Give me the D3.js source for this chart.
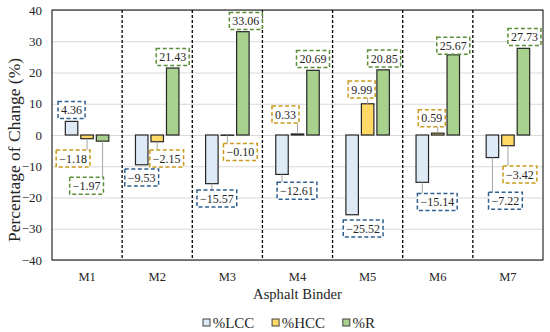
<!DOCTYPE html>
<html>
<head>
<meta charset="utf-8">
<script src="https://cdn.jsdelivr.net/npm/d3@7"></script>
<style>
  body { margin: 0; background: #fff; }
  svg text { font-family: "Liberation Serif", "Times New Roman", serif; fill: #262626; }
</style>
</head>
<body>
<svg id="chart" width="550" height="332"></svg>
<script>
//------------------------------------------------------------------------------
// Data
//------------------------------------------------------------------------------
var binders = ["M1", "M2", "M3", "M4", "M5", "M6", "M7"];
var seriesNames = ["%LCC", "%HCC", "%R"];
var lcc = [4.36, -9.53, -15.57, -12.61, -25.52, -15.14, -7.22];
var hcc = [-1.18, -2.15, -0.10, 0.33, 9.99, 0.59, -3.42];
var rr = [-1.97, 21.43, 33.06, 20.69, 20.85, 25.67, 27.73];
var yTicks = [-40, -30, -20, -10, 0, 10, 20, 30, 40];

// where each data label was dragged to: pixel shift from bar centre, and
// the value level the label centre sits at
var lccLabelDx = [0, 0, 5, 15, 11, 15, 13];
var lccLabelAt = [8.0, -13.6, -20.3, -17.8, -29.9, -21.4, -21.0];
var hccLabelDx = [-14, 9.5, 13, -12, -6, -6, 12];
var hccLabelAt = [-7.5, -7.5, -5.4, 6.6, 14.6, 5.4, -12.6];
var rLabelDx = [-16, 0, 3, 0, 1, 0, 1];
var rLabelAt = [-16.2, 25.0, 36.5, 24.3, 24.5, 28.6, 31.4];

//------------------------------------------------------------------------------
// Layout
//------------------------------------------------------------------------------
var FONT = "'Liberation Serif', 'Times New Roman', serif";

var svg = d3.select("#chart"),
    margin = {left: 52, right: 7, top: 10, bottom: 72},
    W = 550, H = 332,
    plotW = W - margin.left - margin.right,
    plotH = H - margin.top - margin.bottom;

var fills = ["#deebf7", "#ffd966", "#a9d18e"],
    boxStroke = ["#2f5f8f", "#c99a1c", "#5b8f37"];

var series = [
    {name: seriesNames[0], values: lcc, dx: lccLabelDx, at: lccLabelAt},
    {name: seriesNames[1], values: hcc, dx: hccLabelDx, at: hccLabelAt},
    {name: seriesNames[2], values: rr, dx: rLabelDx, at: rLabelAt}
];

var x = d3.scaleBand().domain(binders).range([0, plotW]).padding(0);
var y = d3.scaleLinear().domain([-40, 40]).range([plotH, 0]);
var bw = x.bandwidth(),
    step = bw * 0.221,
    barW = bw * 0.178;

var g = svg.append("g")
    .attr("transform", "translate(" + margin.left + "," + margin.top + ")");

// gridlines
g.append("g")
    .call(d3.axisLeft(y).tickValues(yTicks).tickSize(-plotW).tickFormat(""))
    .call(function(a) {
        a.select(".domain").remove();
        a.selectAll("line").attr("stroke", "#d9d9d9").attr("stroke-width", 1);
    });

// y tick labels
g.append("g")
    .call(d3.axisLeft(y).tickValues(yTicks).tickSize(0).tickPadding(10).tickFormat(d3.format("d")))
    .attr("font-family", FONT)
    .call(function(a) {
        a.select(".domain").remove();
        a.selectAll("text").style("font-size", "13px").attr("fill", "#262626");
    });

// category labels
g.append("g")
    .attr("transform", "translate(0," + plotH + ")")
    .call(d3.axisBottom(x).tickSize(0).tickPadding(12))
    .attr("font-family", FONT)
    .call(function(a) {
        a.select(".domain").remove();
        a.selectAll("text").style("font-size", "12.5px").attr("fill", "#262626");
    });

// dashed separators between binders
g.append("g").selectAll("line")
    .data(binders.slice(1))
    .join("line")
    .attr("x1", function(d) { return x(d); })
    .attr("x2", function(d) { return x(d); })
    .attr("y1", 0)
    .attr("y2", plotH)
    .attr("stroke", "#000")
    .attr("stroke-width", 1.3)
    .attr("stroke-dasharray", "3,2");

//------------------------------------------------------------------------------
// Bars
//------------------------------------------------------------------------------
function barX(si, i) {
    return x(binders[i]) + bw / 2 + (si - 1) * step;
}

series.forEach(function(s, si) {
    g.append("g").selectAll("rect")
        .data(s.values)
        .join("rect")
        .attr("x", function(d, i) { return barX(si, i) - barW / 2; })
        .attr("y", function(d) { return y(Math.max(0, d)); })
        .attr("width", barW)
        .attr("height", function(d) { return Math.abs(y(d) - y(0)); })
        .attr("fill", fills[si])
        .attr("stroke", "#262626")
        .attr("stroke-width", 1.2);
});

//------------------------------------------------------------------------------
// Data labels with dashed boxes and leader lines
//------------------------------------------------------------------------------
var fmt = d3.format(".2f");
var leaders = g.append("g"),
    labels = g.append("g").attr("font-family", FONT);

series.forEach(function(s, si) {
    s.values.forEach(function(v, i) {
        var bx = barX(si, i),
            by = y(v),
            cx = bx + s.dx[i],
            cy = y(s.at[i]);

        var lab = labels.append("g");
        var t = lab.append("text")
            .attr("x", cx)
            .attr("y", cy)
            .attr("dy", "0.35em")
            .attr("text-anchor", "middle")
            .style("font-size", "12px")
            .text(fmt(v));
        var tw = t.node().getComputedTextLength(),
            w = tw + 6, h = 17;
        var x0 = cx - w / 2, y0 = cy - h / 2;
        lab.insert("rect", "text")
            .attr("x", x0)
            .attr("y", y0)
            .attr("width", w)
            .attr("height", h)
            .attr("fill", "#fff")
            .attr("stroke", boxStroke[si])
            .attr("stroke-width", 1.5)
            .attr("stroke-dasharray", "4,2.5");

        // leader to the bar end when the label is away from it
        var px = Math.max(x0, Math.min(bx, x0 + w)),
            py = Math.max(y0, Math.min(by, y0 + h));
        if (Math.hypot(px - bx, py - by) > 5.5) {
            leaders.append("line")
                .attr("x1", bx).attr("y1", by)
                .attr("x2", px).attr("y2", py)
                .attr("stroke", "#a6a6a6")
                .attr("stroke-width", 1);
        }
    });
});

// plot frame
g.append("rect")
    .attr("width", plotW)
    .attr("height", plotH)
    .attr("fill", "none")
    .attr("stroke", "#000")
    .attr("stroke-width", 1);

//------------------------------------------------------------------------------
// Titles and legend
//------------------------------------------------------------------------------
svg.append("text")
    .attr("transform", "translate(14,150) rotate(-90)")
    .attr("text-anchor", "middle")
    .attr("dy", "0.35em")
    .attr("font-family", FONT)
    .style("font-size", "17.5px")
    .text("Percentage of Change (%)");

svg.append("text")
    .attr("x", margin.left + plotW / 2)
    .attr("y", 299)
    .attr("text-anchor", "middle")
    .attr("font-family", FONT)
    .style("font-size", "14.6px")
    .text("Asphalt Binder");

var legend = svg.append("g")
    .attr("transform", "translate(203,322.5)")
    .attr("font-family", FONT);
var lx = 0;
seriesNames.forEach(function(n, si) {
    var item = legend.append("g").attr("transform", "translate(" + lx + ",0)");
    item.append("rect")
        .attr("x", 0).attr("y", -3.5)
        .attr("width", 7).attr("height", 7)
        .attr("fill", fills[si])
        .attr("stroke", "#404040")
        .attr("stroke-width", 1);
    var t = item.append("text")
        .attr("x", 9.7)
        .attr("dy", "0.35em")
        .style("font-size", "15px")
        .text(n);
    lx += 9.7 + t.node().getComputedTextLength() + 17.7;
});
</script>
</body>
</html>
